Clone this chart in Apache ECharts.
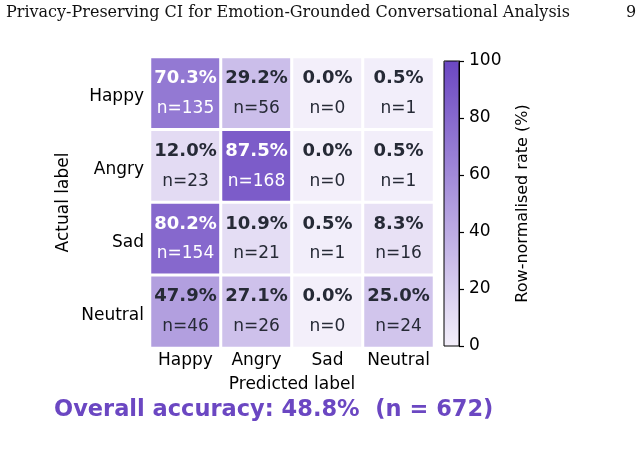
<!DOCTYPE html>
<html>
<head>
<meta charset="utf-8">
<script src="https://cdn.jsdelivr.net/npm/echarts@6/dist/echarts.min.js"></script>
<style>
  html, body { margin: 0; padding: 0; background: #fff; }
  #chart { width: 644px; height: 453px; }
</style>
</head>
<body>
<div id="chart"></div>
<script>
  // emotion classes, same order on both axes
  var labels = ['Happy', 'Angry', 'Sad', 'Neutral'];
  // row-normalised rates (%), one row per actual label
  var ratePct = [
    [70.3, 29.2, 0.0, 0.5],
    [12.0, 87.5, 0.0, 0.5],
    [80.2, 10.9, 0.5, 8.3],
    [47.9, 27.1, 0.0, 25.0]
  ];
  // raw counts
  var counts = [
    [135, 56, 0, 1],
    [23, 168, 0, 1],
    [154, 21, 1, 16],
    [46, 26, 0, 24]
  ];
  var barTicks = [0, 20, 40, 60, 80, 100];

  var cells = [];
  labels.forEach(function (row, i) {
    labels.forEach(function (col, j) {
      cells.push([j, i, ratePct[i][j], counts[i][j]]);
    });
  });

  var ink = '#262a36';
  var purple = '#6b47c2';
  var font = 'DejaVu Sans';

  var option = {
    animation: false,
    graphic: [
      { type: 'text', left: 6, top: 5,
        style: { text: 'Privacy-Preserving CI for Emotion-Grounded Conversational Analysis',
                 font: '16px "DejaVu Serif"', fill: '#111' } },
      { type: 'text', left: 626, top: 5,
        style: { text: '9', font: '16px "DejaVu Serif"', fill: '#111' } },
      { type: 'text', left: 54, top: 399,
        style: { text: 'Overall accuracy: 48.8%  (n = 672)',
                 font: 'bold 22.5px "DejaVu Sans"', fill: purple } }
    ],
    grid: [
      { left: 150, top: 57, width: 284, height: 291 },
      { left: 444, top: 61, width: 15, height: 285, show: true,
        borderColor: '#000', borderWidth: 1, backgroundColor: 'transparent', z: 5 }
    ],
    xAxis: [
      { type: 'category', data: labels, gridIndex: 0,
        name: 'Predicted label', nameLocation: 'middle', nameGap: 28,
        nameTextStyle: { fontSize: 17, color: '#000', fontFamily: font },
        axisLine: { show: false }, axisTick: { show: false },
        axisLabel: { fontSize: 17, color: '#000', fontFamily: font, margin: 4, interval: 0 },
        splitArea: { show: false } },
      { type: 'value', gridIndex: 1, show: false, min: 0, max: 1 }
    ],
    yAxis: [
      { type: 'category', data: labels, gridIndex: 0, inverse: true,
        name: 'Actual label', nameLocation: 'middle', nameGap: 78, nameRotate: 90,
        nameTextStyle: { fontSize: 17, color: '#000', fontFamily: font },
        axisLine: { show: false }, axisTick: { show: false },
        axisLabel: { color: '#000', margin: 6, interval: 0,
          formatter: function (v) { return '{t|' + v + '}'; },
          rich: { t: { fontSize: 17, color: '#000', fontFamily: font, padding: [7, 0, 0, 0] } } },
        splitArea: { show: false } },
      { type: 'value', gridIndex: 1, position: 'right', min: 0, max: 100, interval: 20,
        name: 'Row-normalised rate (%)', nameLocation: 'middle', nameGap: 56, nameRotate: 90,
        nameTextStyle: { fontSize: 16, color: '#000', fontFamily: font },
        axisLine: { show: true, onZero: false, lineStyle: { color: '#000', width: 1 } },
        axisTick: { show: true, inside: false, length: 5, lineStyle: { color: '#000', width: 1.2 } },
        axisLabel: { fontSize: 17, color: '#000', fontFamily: font, margin: 10,
          formatter: function (v) { return barTicks.indexOf(v) >= 0 ? String(v) : ''; } },
        splitLine: { show: false } }
    ],
    visualMap: {
      type: 'continuous', min: 0, max: 100, dimension: 2, seriesIndex: 0,
      calculable: false, orient: 'vertical',
      left: 444, top: 61, itemWidth: 15, itemHeight: 285,
      padding: 0, text: null, showLabel: false,
      inRange: { color: ['#f3effa', purple] }
    },
    series: [{
      type: 'heatmap',
      xAxisIndex: 0, yAxisIndex: 0,
      data: cells,
      itemStyle: { borderColor: '#fff', borderWidth: 3 },
      label: {
        show: true,
        formatter: function (p) {
          var tone = p.value[2] < 60 ? 'd' : 'w';
          return '{p' + tone + '|' + p.value[2].toFixed(1) + '%}\n{n' + tone + '|n=' + p.value[3] + '}';
        },
        rich: {
          pd: { fontSize: 18, fontWeight: 'bold', color: ink, fontFamily: font, lineHeight: 30 },
          pw: { fontSize: 18, fontWeight: 'bold', color: '#fff', fontFamily: font, lineHeight: 30 },
          nd: { fontSize: 17, color: ink, fontFamily: font, lineHeight: 30 },
          nw: { fontSize: 17, color: '#fff', fontFamily: font, lineHeight: 30 }
        }
      },
      emphasis: { disabled: true }
    }]
  };

  var myChart = echarts.init(document.getElementById('chart'));
  myChart.setOption(option);
</script>
</body>
</html>
